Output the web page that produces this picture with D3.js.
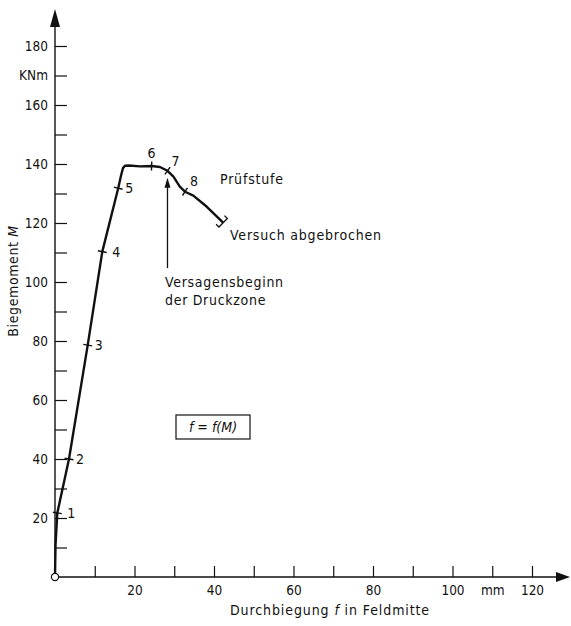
<!DOCTYPE html>
<html>
<head>
<meta charset="utf-8">
<script src="https://cdn.jsdelivr.net/npm/d3@7"></script>
<style>
  html, body { margin: 0; padding: 0; background: #fff; }
  svg { display: block; }
  text { font-family: "DejaVu Sans Condensed", "DejaVu Sans", sans-serif; fill: #111; }
</style>
</head>
<body>
<svg id="chart" width="571" height="626"></svg>
<script>
// ---------- data ----------
// Durchbiegung f (mm) und Biegemoment M (kNm) entlang der Kurve
const deflection = [0, 0.13, 0.58, 3.52, 8.23, 11.9, 15.9, 16.6, 17.1, 17.6, 18.6, 21.4, 24.3, 26.4, 28.3, 29.8, 31.4, 32.7, 34.8, 38.2, 42.3];
const moment     = [0, 10.8, 21.7, 40.0, 78.6, 110.3, 131.8, 136.0, 138.6, 139.4, 139.5, 139.2, 139.3, 139.0, 137.7, 135.7, 132.3, 130.6, 129.3, 125.5, 120.1];

// Prüfstufen 1..8 (Index in den Kurvenarrays)
const stageLabels = ["1", "2", "3", "4", "5", "6", "7", "8"];
const stageIndex  = [2, 3, 4, 5, 6, 12, 14, 17];

// Achsen
const xTickValues = [10, 20, 30, 40, 50, 60, 70, 80, 90, 100, 110, 120];
const xTickLabels = ["", "20", "", "40", "", "60", "", "80", "", "100", "mm", "120"];
const yTickValues = [10, 20, 30, 40, 50, 60, 70, 80, 90, 100, 110, 120, 130, 140, 150, 160, 170, 180];
const yTickLabels = ["", "20", "", "40", "", "60", "", "80", "", "100", "", "120", "", "140", "", "160", "KNm", "180"];

// Pfeil "Versagensbeginn der Druckzone"
const arrowF = 28.3, arrowFromM = 104.7, arrowToM = 135.3;

// ---------- layout ----------
const svg = d3.select("#chart");
const x = d3.scaleLinear().domain([0, 120]).range([55, 532]);
const y = d3.scaleLinear().domain([0, 180]).range([577, 46]);
const X0 = x(0), Y0 = y(0);

const FS = 13.5, FA = 14;
const FONT = '"DejaVu Sans Condensed", "DejaVu Sans", sans-serif';

// x axis ticks (inward)
const xAxis = d3.axisBottom(x)
  .tickValues(xTickValues)
  .tickFormat((d, i) => xTickLabels[i])
  .tickSizeInner(-11).tickSizeOuter(0).tickPadding(8);
const gx = svg.append("g").attr("transform", `translate(0,${Y0})`).call(xAxis);
gx.select(".domain").remove();
gx.selectAll(".tick line").attr("stroke", "#111").attr("stroke-width", 1.2);
gx.selectAll(".tick text").attr("font-size", FS).attr("fill", "#111").attr("font-family", FONT);

// y axis ticks (inward)
const yAxis = d3.axisLeft(y)
  .tickValues(yTickValues)
  .tickFormat((d, i) => yTickLabels[i])
  .tickSizeInner(-12).tickSizeOuter(0).tickPadding(7);
const gy = svg.append("g").attr("transform", `translate(${X0},0)`).call(yAxis);
gy.select(".domain").remove();
gy.selectAll(".tick line").attr("stroke", "#111").attr("stroke-width", 1.2);
gy.selectAll(".tick text").attr("font-size", FS).attr("fill", "#111").attr("font-family", FONT);

// axis lines with arrows
svg.append("line").attr("x1", X0).attr("y1", Y0).attr("x2", 560).attr("y2", Y0)
  .attr("stroke", "#111").attr("stroke-width", 1.4);
svg.append("path").attr("d", `M570,${Y0} L556,${Y0 - 5} L556,${Y0 + 5} Z`).attr("fill", "#111");
svg.append("line").attr("x1", X0).attr("y1", Y0).attr("x2", X0).attr("y2", 20)
  .attr("stroke", "#111").attr("stroke-width", 1.4);
svg.append("path").attr("d", `M${X0},9 L${X0 - 5},27 L${X0 + 5},27 Z`).attr("fill", "#111");

// axis titles
const xt = svg.append("text").attr("x", 230).attr("y", 615).attr("font-size", FA)
  .attr("letter-spacing", 0.9);
xt.append("tspan").text("Durchbiegung ");
xt.append("tspan").attr("font-style", "italic").text("f");
xt.append("tspan").text(" in Feldmitte");

const yt = svg.append("text").attr("transform", "translate(18,281) rotate(-90)")
  .attr("text-anchor", "middle").attr("font-size", FA).attr("letter-spacing", 0.6);
yt.append("tspan").text("Biegemoment ");
yt.append("tspan").attr("font-style", "italic").text("M");

// curve
const pts = deflection.map((f, i) => [x(f), y(moment[i])]);
const line = d3.line().curve(d3.curveLinear);
svg.append("path").attr("d", line(pts)).attr("fill", "none")
  .attr("stroke", "#111").attr("stroke-width", 2.4).attr("stroke-linejoin", "round");

// stage ticks perpendicular to curve + labels
const labelOffsets = [[14, 0], [11, 0], [11, 0], [14, 0], [11, 0], [0, -13], [8, -10], [9, -11]];
stageIndex.forEach((idx, k) => {
  const p = pts[idx], a = pts[idx - 1], b = pts[idx + 1];
  let tx = b[0] - a[0], ty = b[1] - a[1];
  const len = Math.hypot(tx, ty); tx /= len; ty /= len;
  const nx = -ty, ny = tx, h = 4.5;
  svg.append("line")
    .attr("x1", p[0] - nx * h).attr("y1", p[1] - ny * h)
    .attr("x2", p[0] + nx * h).attr("y2", p[1] + ny * h)
    .attr("stroke", "#111").attr("stroke-width", 1.4);
  svg.append("text")
    .attr("x", p[0] + labelOffsets[k][0]).attr("y", p[1] + labelOffsets[k][1])
    .attr("text-anchor", "middle").attr("dy", "0.36em").attr("font-size", FA)
    .text(stageLabels[k]);
});

// end bracket (Versuch abgebrochen)
{
  const n = pts.length, p = pts[n - 1], a = pts[n - 2];
  let tx = p[0] - a[0], ty = p[1] - a[1];
  const len = Math.hypot(tx, ty); tx /= len; ty /= len;
  const nx = -ty, ny = tx, h = 6, k = 4;
  const d = `M${p[0] + nx * h - tx * k},${p[1] + ny * h - ty * k} L${p[0] + nx * h},${p[1] + ny * h} ` +
            `L${p[0] - nx * h},${p[1] - ny * h} L${p[0] - nx * h - tx * k},${p[1] - ny * h - ty * k}`;
  svg.append("path").attr("d", d).attr("fill", "none").attr("stroke", "#111").attr("stroke-width", 1.3);
}

// origin circle
svg.append("circle").attr("cx", X0).attr("cy", Y0).attr("r", 3.6)
  .attr("fill", "#fff").attr("stroke", "#111").attr("stroke-width", 1.2);

// failure arrow
{
  const ax = x(arrowF), y1 = y(arrowFromM), y2 = y(arrowToM);
  svg.append("line").attr("x1", ax).attr("y1", y1).attr("x2", ax).attr("y2", y2 + 7)
    .attr("stroke", "#111").attr("stroke-width", 1.3);
  svg.append("path").attr("d", `M${ax},${y2} L${ax - 3},${y2 + 10} L${ax + 3},${y2 + 10} Z`).attr("fill", "#111");
}

// annotations
svg.append("text").attr("x", 220).attr("y", 184).attr("font-size", FA).attr("letter-spacing", 0.8).text("Prüfstufe");
svg.append("text").attr("x", 230).attr("y", 240).attr("font-size", FA).attr("letter-spacing", 0.8).text("Versuch abgebrochen");
svg.append("text").attr("x", 165).attr("y", 287).attr("font-size", FA).attr("letter-spacing", 0.7).text("Versagensbeginn");
svg.append("text").attr("x", 165).attr("y", 305).attr("font-size", FA).attr("letter-spacing", 0.7).text("der Druckzone");

// formula box
svg.append("rect").attr("x", 176).attr("y", 415).attr("width", 74).attr("height", 24)
  .attr("fill", "none").attr("stroke", "#111").attr("stroke-width", 1.2);
svg.append("text").attr("x", 213).attr("y", 427).attr("dy", "0.36em").attr("text-anchor", "middle")
  .attr("font-size", FA).attr("font-style", "italic").text("f = f(M)");
</script>
</body>
</html>
